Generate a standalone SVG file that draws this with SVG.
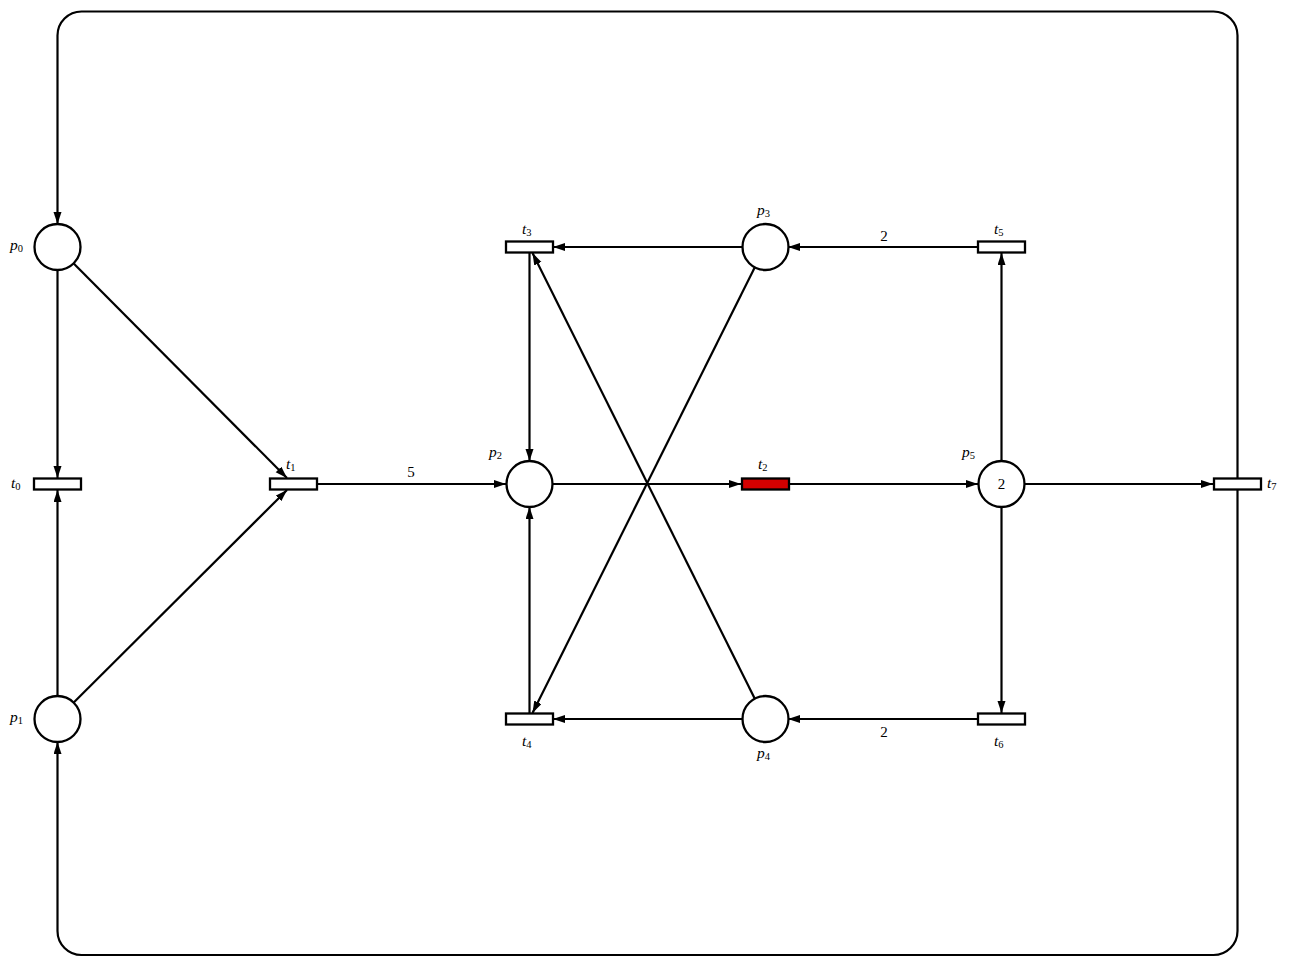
<svg xmlns="http://www.w3.org/2000/svg" width="1292" height="970" viewBox="0 0 1292 970">
<style>
.pl{fill:#fff;stroke:#000;stroke-width:2.3}
.tr{fill:#fff;stroke:#000;stroke-width:2.3}
.fire{fill:#d40000}
.arc{fill:none;stroke:#000;stroke-width:2.2}
.lb{font-family:"Liberation Serif",serif;font-style:italic;font-size:15.5px;fill:#000}
.sub{font-size:10.5px;font-style:normal}
.w{font-family:"Liberation Serif",serif;font-size:15px;fill:#000;text-anchor:middle}
</style>
<defs>
<marker id="ah" markerUnits="userSpaceOnUse" markerWidth="13" markerHeight="9" refX="12" refY="4" orient="auto">
<path d="M0,0 L12,4 L0,8 z" fill="#000"/>
</marker>
</defs>
<rect width="1292" height="970" fill="#fff"/>
<g id="connectors">
<path class="arc" marker-end="url(#ah)" d="M1237.5,478 V35.5 A24,24 0 0 0 1213.5,11.5 H81.5 A24,24 0 0 0 57.5,35.5 V224"/>
<path class="arc" marker-end="url(#ah)" d="M1237.5,490 V931 A24,24 0 0 1 1213.5,955 H81.5 A24,24 0 0 1 57.5,931 V742"/>
<line class="arc" marker-end="url(#ah)" x1="57.5" y1="270" x2="57.5" y2="478"/>
<line class="arc" marker-end="url(#ah)" x1="57.5" y1="696" x2="57.5" y2="490"/>
<line class="arc" marker-end="url(#ah)" x1="73.7" y1="263.5" x2="287" y2="478"/>
<line class="arc" marker-end="url(#ah)" x1="73.7" y1="702.5" x2="287" y2="490"/>
<line class="arc" marker-end="url(#ah)" x1="317" y1="484" x2="506" y2="484"/>
<line class="arc" marker-end="url(#ah)" x1="552" y1="484" x2="741" y2="484"/>
<line class="arc" marker-end="url(#ah)" x1="789" y1="484" x2="978" y2="484"/>
<line class="arc" marker-end="url(#ah)" x1="1024" y1="484" x2="1213" y2="484"/>
<line class="arc" marker-end="url(#ah)" x1="742" y1="247" x2="553" y2="247"/>
<line class="arc" marker-end="url(#ah)" x1="977" y1="247" x2="788" y2="247"/>
<line class="arc" marker-end="url(#ah)" x1="742" y1="719" x2="553" y2="719"/>
<line class="arc" marker-end="url(#ah)" x1="977" y1="719" x2="788" y2="719"/>
<line class="arc" marker-end="url(#ah)" x1="529.5" y1="253" x2="529.5" y2="461"/>
<line class="arc" marker-end="url(#ah)" x1="529.5" y1="713" x2="529.5" y2="507"/>
<line class="arc" marker-end="url(#ah)" x1="1001.5" y1="461" x2="1001.5" y2="253"/>
<line class="arc" marker-end="url(#ah)" x1="1001.5" y1="507" x2="1001.5" y2="713"/>
<line class="arc" marker-end="url(#ah)" x1="754.7" y1="267.6" x2="532.5" y2="713"/>
<line class="arc" marker-end="url(#ah)" x1="754.7" y1="698.4" x2="532.5" y2="253"/>
<text class="w" x="411" y="477">5</text>
<text class="w" x="884" y="241">2</text>
<text class="w" x="884" y="737">2</text>
</g>
<g id="p0"><circle class="pl" cx="57.5" cy="247" r="23"/><text class="lb" x="10" y="250">p<tspan class="sub" dy="2">0</tspan></text></g>
<g id="p1"><circle class="pl" cx="57.5" cy="719" r="23"/><text class="lb" x="10" y="722">p<tspan class="sub" dy="2">1</tspan></text></g>
<g id="p2"><circle class="pl" cx="529.5" cy="484" r="23"/><text class="lb" x="489" y="457">p<tspan class="sub" dy="2">2</tspan></text></g>
<g id="p3"><circle class="pl" cx="765.5" cy="247" r="23"/><text class="lb" x="757" y="215">p<tspan class="sub" dy="2">3</tspan></text></g>
<g id="p4"><circle class="pl" cx="765.5" cy="719" r="23"/><text class="lb" x="757" y="758">p<tspan class="sub" dy="2">4</tspan></text></g>
<g id="p5"><circle class="pl" cx="1001.5" cy="484" r="23"/><text class="w" x="1001.5" y="489">2</text><text class="lb" x="962" y="457">p<tspan class="sub" dy="2">5</tspan></text></g>
<g id="t0"><rect class="tr" x="34" y="478.5" width="47" height="11"/><text class="lb" x="11" y="488">t<tspan class="sub" dy="2">0</tspan></text></g>
<g id="t1"><rect class="tr" x="270" y="478.5" width="47" height="11"/><text class="lb" x="286" y="469">t<tspan class="sub" dy="2">1</tspan></text></g>
<g id="t2"><rect class="tr fire" x="742" y="478.5" width="47" height="11"/><text class="lb" x="758" y="469">t<tspan class="sub" dy="2">2</tspan></text></g>
<g id="t3"><rect class="tr" x="506" y="241.5" width="47" height="11"/><text class="lb" x="522" y="234">t<tspan class="sub" dy="2">3</tspan></text></g>
<g id="t4"><rect class="tr" x="506" y="713.5" width="47" height="11"/><text class="lb" x="522" y="746">t<tspan class="sub" dy="2">4</tspan></text></g>
<g id="t5"><rect class="tr" x="978" y="241.5" width="47" height="11"/><text class="lb" x="994" y="234">t<tspan class="sub" dy="2">5</tspan></text></g>
<g id="t6"><rect class="tr" x="978" y="713.5" width="47" height="11"/><text class="lb" x="994" y="746">t<tspan class="sub" dy="2">6</tspan></text></g>
<g id="t7"><rect class="tr" x="1214" y="478.5" width="47" height="11"/><text class="lb" x="1267" y="488">t<tspan class="sub" dy="2">7</tspan></text></g>
</svg>
